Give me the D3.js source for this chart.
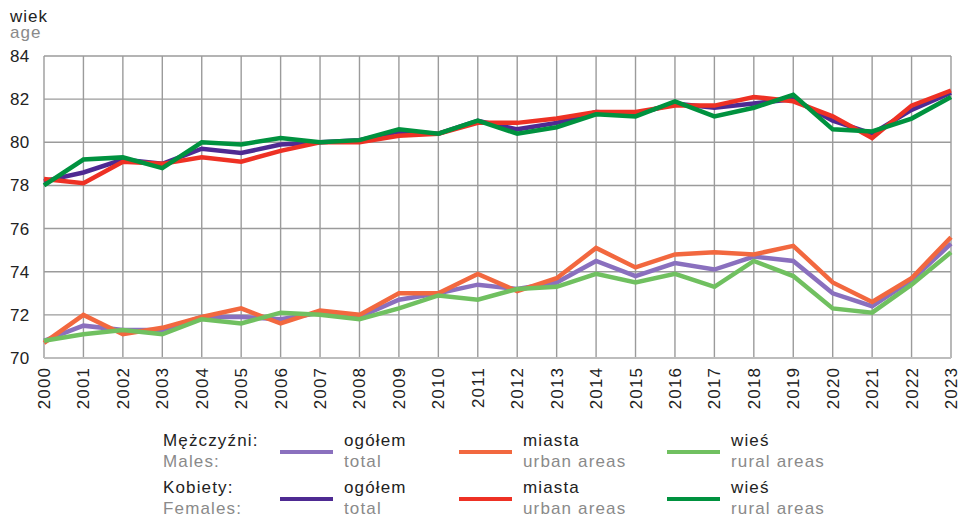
<!DOCTYPE html>
<html>
<head>
<meta charset="utf-8">
<script src="https://cdn.jsdelivr.net/npm/d3@7"></script>
<style>
  body { margin: 0; background: #fff; }
  svg { display: block; font-family: "Liberation Sans", Arial, sans-serif; }
</style>
</head>
<body>
<div id="chart"></div>
<script>
// years on the x axis
const years = d3.range(2000, 2024);

// life expectancy (age)
const femalesTotal = [78.2, 78.6, 79.2, 79.0, 79.7, 79.5, 79.9, 80.0, 80.1, 80.5, 80.4, 81.0, 80.6, 80.9, 81.4, 81.3, 81.8, 81.6, 81.8, 82.0, 81.0, 80.4, 81.5, 82.3];
const femalesUrban = [78.3, 78.1, 79.1, 79.0, 79.3, 79.1, 79.6, 80.0, 80.0, 80.3, 80.4, 80.9, 80.9, 81.1, 81.4, 81.4, 81.7, 81.7, 82.1, 81.9, 81.2, 80.2, 81.7, 82.4];
const femalesRural = [78.0, 79.2, 79.3, 78.8, 80.0, 79.9, 80.2, 80.0, 80.1, 80.6, 80.4, 81.0, 80.4, 80.7, 81.3, 81.2, 81.9, 81.2, 81.6, 82.2, 80.6, 80.5, 81.1, 82.1];
const malesTotal = [70.8, 71.5, 71.3, 71.3, 71.9, 71.9, 71.8, 72.1, 71.9, 72.7, 73.0, 73.4, 73.2, 73.5, 74.5, 73.8, 74.4, 74.1, 74.7, 74.5, 73.0, 72.4, 73.6, 75.3];
const malesUrban = [70.7, 72.0, 71.1, 71.4, 71.9, 72.3, 71.6, 72.2, 72.0, 73.0, 73.0, 73.9, 73.1, 73.7, 75.1, 74.2, 74.8, 74.9, 74.8, 75.2, 73.5, 72.6, 73.7, 75.6];
const malesRural = [70.8, 71.1, 71.3, 71.1, 71.8, 71.6, 72.1, 72.0, 71.8, 72.3, 72.9, 72.7, 73.2, 73.3, 73.9, 73.5, 73.9, 73.3, 74.5, 73.8, 72.3, 72.1, 73.4, 74.9];

const yTicks = [70, 72, 74, 76, 78, 80, 82, 84];

const series = [
  { values: malesTotal, color: "#8a70be" },
  { values: malesUrban, color: "#f2683f" },
  { values: malesRural, color: "#70c060" },
  { values: femalesTotal, color: "#4e2a92" },
  { values: femalesUrban, color: "#ee3124" },
  { values: femalesRural, color: "#00923f" }
];

const width = 959, height = 516;
const plotLeft = 44, plotRight = 951, plotTop = 56, plotBottom = 358;

const svg = d3.select("#chart").append("svg")
  .attr("width", width)
  .attr("height", height);

const x = d3.scaleLinear().domain([2000, 2023]).range([plotLeft, plotRight]);
const y = d3.scaleLinear().domain([70, 84]).range([plotBottom, plotTop]);

// grid
svg.append("g")
  .selectAll("line")
  .data(years)
  .join("line")
  .attr("x1", d => x(d)).attr("x2", d => x(d))
  .attr("y1", plotTop).attr("y2", plotBottom)
  .attr("stroke", "#9b9b9b")
  .attr("stroke-width", 1.4);

svg.append("g")
  .selectAll("line")
  .data(yTicks)
  .join("line")
  .attr("x1", plotLeft).attr("x2", plotRight)
  .attr("y1", d => y(d)).attr("y2", d => y(d))
  .attr("stroke", d => d == 70 ? "#bdbdbd" : "#9b9b9b")
  .attr("stroke-width", d => d == 70 ? 2 : 1.4);

// y labels
svg.append("g")
  .selectAll("text")
  .data(yTicks)
  .join("text")
  .attr("x", 10)
  .attr("y", d => y(d) + 6)
  .attr("font-size", 17)
  .attr("letter-spacing", 0.3)
  .attr("fill", "#222")
  .text(d => d);

svg.append("text").attr("x", 10).attr("y", 22).attr("font-size", 17).attr("letter-spacing", 1).attr("fill", "#222").text("wiek");
svg.append("text").attr("x", 10).attr("y", 38).attr("font-size", 17).attr("letter-spacing", 1).attr("fill", "#8a8a8a").text("age");

// x labels (rotated)
svg.append("g")
  .selectAll("text")
  .data(years)
  .join("text")
  .attr("transform", d => `translate(${x(d) + 6},${plotBottom + 9}) rotate(-90)`)
  .attr("text-anchor", "end")
  .attr("font-size", 17)
  .attr("letter-spacing", 1.1)
  .attr("fill", "#222")
  .text(d => d);

// lines
const line = d3.line()
  .x((d, i) => x(years[i]))
  .y(d => y(d));

svg.append("g")
  .selectAll("path")
  .data(series)
  .join("path")
  .attr("d", d => line(d.values))
  .attr("fill", "none")
  .attr("stroke", d => d.color)
  .attr("stroke-width", 4.5)
  .attr("stroke-linejoin", "miter");

// legend
const legend = svg.append("g").attr("font-size", 17).attr("letter-spacing", 1.15);
const rowsY = [446, 493];
const rowLabels = [["Mężczyźni:", "Males:"], ["Kobiety:", "Females:"]];
const colX = [280, 459, 667];
const colLabels = [["ogółem", "total"], ["miasta", "urban areas"], ["wieś", "rural areas"]];

rowsY.forEach((ry, r) => {
  legend.append("text").attr("x", 163).attr("y", ry).attr("fill", "#222").text(rowLabels[r][0]);
  legend.append("text").attr("x", 163).attr("y", ry + 21).attr("fill", "#8a8a8a").text(rowLabels[r][1]);
  colX.forEach((cx, c) => {
    legend.append("line")
      .attr("x1", cx).attr("x2", cx + 53)
      .attr("y1", ry + 6).attr("y2", ry + 6)
      .attr("stroke", series[r * 3 + c].color)
      .attr("stroke-width", 4);
    legend.append("text").attr("x", cx + 64).attr("y", ry).attr("fill", "#222").text(colLabels[c][0]);
    legend.append("text").attr("x", cx + 64).attr("y", ry + 21).attr("fill", "#8a8a8a").text(colLabels[c][1]);
  });
});
</script>
</body>
</html>
